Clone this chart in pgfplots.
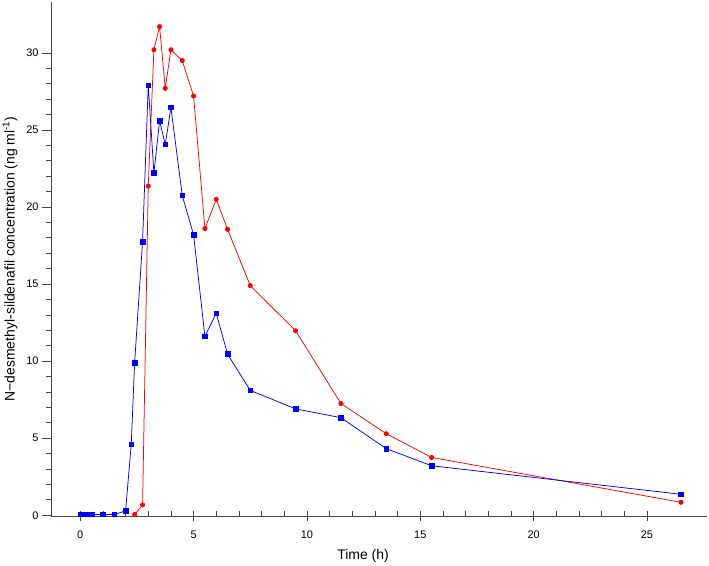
\documentclass[border=0pt]{standalone}
\usepackage{fontspec}
\setmainfont{Liberation Sans}
\usepackage{pgfplots}
\pgfplotsset{compat=1.18}

\definecolor{axgray}{RGB}{70,70,70}

\begin{document}
\begin{tikzpicture}
\begin{axis}[
    scale only axis,
    width=656bp, height=514bp,
    xmin=-1.29, xmax=27.65,
    ymin=-0.05, ymax=33.3,
    axis x line=bottom, axis y line=left,
    axis line style={-, axgray, line width=0.8pt},
    xtick={0,5,...,25}, ytick={0,5,...,30},
    minor tick num=4,
    xtick align=inside, ytick align=outside,
    major tick length=9bp, minor tick length=5bp,
    major x tick style={yshift=-4.5bp},
    tick style={axgray, line width=0.7pt},
    font=\fontsize{14}{16}\selectfont,
    tick label style={font=\fontsize{11}{13}\selectfont},
    /pgf/number format/assume math mode=true,
    xticklabel style={yshift=-11bp},
    xlabel={Time (h)},
    ylabel={N−desmethyl-sildenafil concentration (ng ml\textsuperscript{-1})},
    xlabel style={at={(axis description cs:0.5,0)}, anchor=center, xshift=-16bp, yshift=-40bp},
    ylabel style={at={(axis description cs:-0.0625,0.5)}, anchor=center},
    clip=false,
]
\addplot[red, line width=0.75pt, mark=*, mark size=2.1bp] coordinates {
    (2.4,0.05) (2.75,0.67) (3,21.35) (3.25,30.2) (3.5,31.7) (3.75,27.7)
    (4,30.2) (4.5,29.5) (5,27.2) (5.5,18.6) (6,20.5) (6.5,18.55)
    (7.5,14.9) (9.5,11.97) (11.5,7.25) (13.5,5.29) (15.5,3.75) (26.5,0.84)
};
\addplot[blue, line width=0.75pt, mark=square*, mark size=2.3bp] coordinates {
    (0,0.05) (0.25,0.05) (0.5,0.05) (1,0.05) (1.5,0.05) (2,0.28)
    (2.25,4.6) (2.4,9.9) (2.75,17.75) (3,27.9) (3.25,22.2) (3.5,25.6)
    (3.75,24.05) (4,26.45) (4.5,20.75) (5,18.2) (5.5,11.6) (6,13.1)
    (6.5,10.45) (7.5,8.1) (9.5,6.9) (11.5,6.33) (13.5,4.32) (15.5,3.21)
    (26.5,1.36)
};
\end{axis}
\pgfresetboundingbox
\path ([shift={(-51bp,-50bp)}]current axis.south west) rectangle ([shift={(2bp,2bp)}]current axis.north east);
\end{tikzpicture}
\end{document}
